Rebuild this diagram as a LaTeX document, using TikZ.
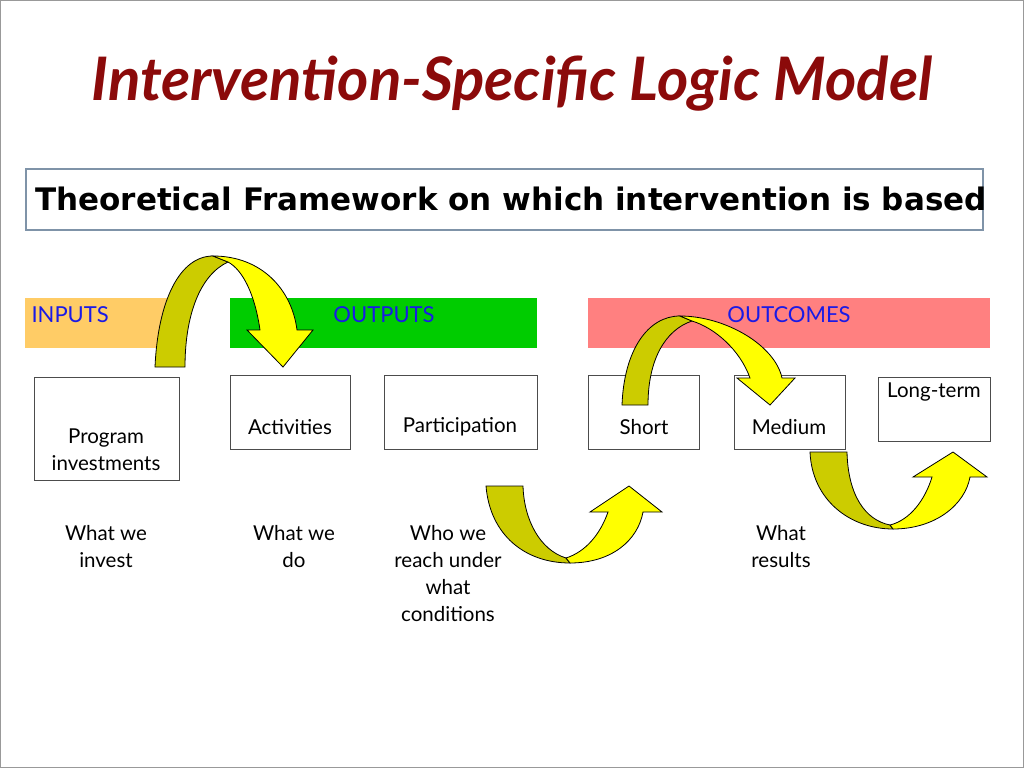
\documentclass[tikz,border=0pt]{standalone}
\usepackage{fontspec}
\setmainfont{Lato}
\newfontfamily\djv{DejaVu Sans}
\definecolor{titlered}{HTML}{8B0A0A}
\definecolor{inbar}{HTML}{FFCC66}
\definecolor{outbar}{HTML}{00CC00}
\definecolor{ocbar}{HTML}{FF8080}
\definecolor{frameb}{HTML}{7F93A8}
\definecolor{lblue}{HTML}{1A1AE6}
\definecolor{darky}{HTML}{CCCC00}
\definecolor{brighty}{HTML}{FFFF00}
\tikzset{
 box/.style={draw=black!70,line width=0.8pt,anchor=north west,inner sep=0},
 bar/.style={anchor=north west,inner sep=0},
 btxt/.style={font=\fontsize{20.5}{27}\selectfont,align=center},
 blbl/.style={font=\fontsize{22}{26}\selectfont,text=lblue},
 dk/.style={fill=darky,draw=black,line width=0.8pt},
 br/.style={fill=brighty,draw=black,line width=0.8pt}
}
\begin{document}
\begin{tikzpicture}[x=1pt,y=-1pt]
\useasboundingbox (0,0) rectangle (1024,768);
\draw[black!40,line width=1pt] (0.5,0.5) rectangle (1023.5,767.5);
\node[font=\fontsize{60}{70}\selectfont\bfseries\itshape,text=titlered] (title) at (512,84) {Intervention-Specific Logic Model};
\node[draw=frameb,line width=2pt,minimum width=957pt,minimum height=61pt,anchor=north west,inner sep=0] (frame) at (25,168) {};
\node[font=\djv\bfseries\fontsize{31}{36}\selectfont,anchor=west,inner sep=0] (ftxt) at (35,199) {Theoretical Framework on which intervention is based};
% bars
\node[bar,fill=inbar,minimum width=155pt,minimum height=50pt] (inb) at (25,298) {};
\node[bar,fill=outbar,minimum width=307pt,minimum height=50pt] (outb) at (230,298) {};
\node[bar,fill=ocbar,minimum width=402pt,minimum height=50pt] (ocb) at (588,298) {};
\node[blbl,anchor=west] (inl) at (28,315) {INPUTS};
\node[blbl] (outl) at (384,315) {OUTPUTS};
\node[blbl] (ocl) at (789,315) {OUTCOMES};
% boxes
\node[box,minimum width=145pt,minimum height=103pt] (prog) at (34,377) {};
\node[btxt] (progt) at (106,450) {Program\\investments};
\node[box,minimum width=120pt,minimum height=74pt] (act) at (230,375) {};
\node[btxt] (actt) at (290,427) {Activities};
\node[box,minimum width=153pt,minimum height=74pt] (par) at (384,375) {};
\node[btxt] (part) at (460,427) {Participation};
\node[box,minimum width=111pt,minimum height=74pt] (sho) at (588,375) {};
\node[btxt] (shot) at (644,427) {Short};
\node[box,minimum width=111pt,minimum height=74pt] (med) at (734,375) {};
\node[btxt] (medt) at (789,427) {Medium};
\node[box,minimum width=112pt,minimum height=64pt] (lon) at (878,377) {};
\node[btxt] (lont) at (934,392) {Long-term};
% bottom texts
\node[btxt,anchor=north] (w1) at (106,522) {What we\\invest};
\node[btxt,anchor=north] (w2) at (294,522) {What we\\do};
\node[btxt,anchor=north] (w3) at (448,522) {Who we\\reach under\\what\\conditions};
\node[btxt,anchor=north] (w4) at (781,522) {What\\results};
% arrow 1
\draw[dk] (155,367) .. controls (158,300) and (180,256) .. (213,256) -- (228,262) .. controls (200,275) and (185,315) .. (185,367) -- cycle;
\draw[br] (213,256) .. controls (262,256) and (292,290) .. (297,330) -- (313,330) -- (283,367) -- (247,330) -- (260,330) .. controls (255,295) and (243,270) .. (228,262) -- cycle;
% arrow 2
\draw[dk] (622,405) .. controls (624,350) and (648,316) .. (680,316) -- (692,321) .. controls (665,330) and (648,360) .. (648,405) -- cycle;
\draw[br] (680,316) .. controls (725,316) and (775,345) .. (782,378) -- (795,378) -- (770,405) -- (737,378) -- (750,378) .. controls (740,350) and (715,328) .. (692,321) -- cycle;
% arrow 3
\draw[dk] (486,486) .. controls (490,535) and (525,563) .. (570,563) -- (566,558) .. controls (540,550) and (524,520) .. (523,486) -- cycle;
\draw[br] (570,563) .. controls (612,563) and (638,540) .. (643,512) -- (662,512) -- (629,486) -- (590,512) -- (608,512) .. controls (600,535) and (585,552) .. (566,558) -- cycle;
% arrow 4
\draw[dk] (810,452) .. controls (812,500) and (850,529) .. (893,529) -- (890,525) .. controls (865,520) and (848,495) .. (847,452) -- cycle;
\draw[br] (893,529) .. controls (935,529) and (965,505) .. (970,477) -- (987,477) -- (953,452) -- (913,477) -- (932,477) .. controls (925,500) and (910,520) .. (890,525) -- cycle;
\end{tikzpicture}
\end{document}
